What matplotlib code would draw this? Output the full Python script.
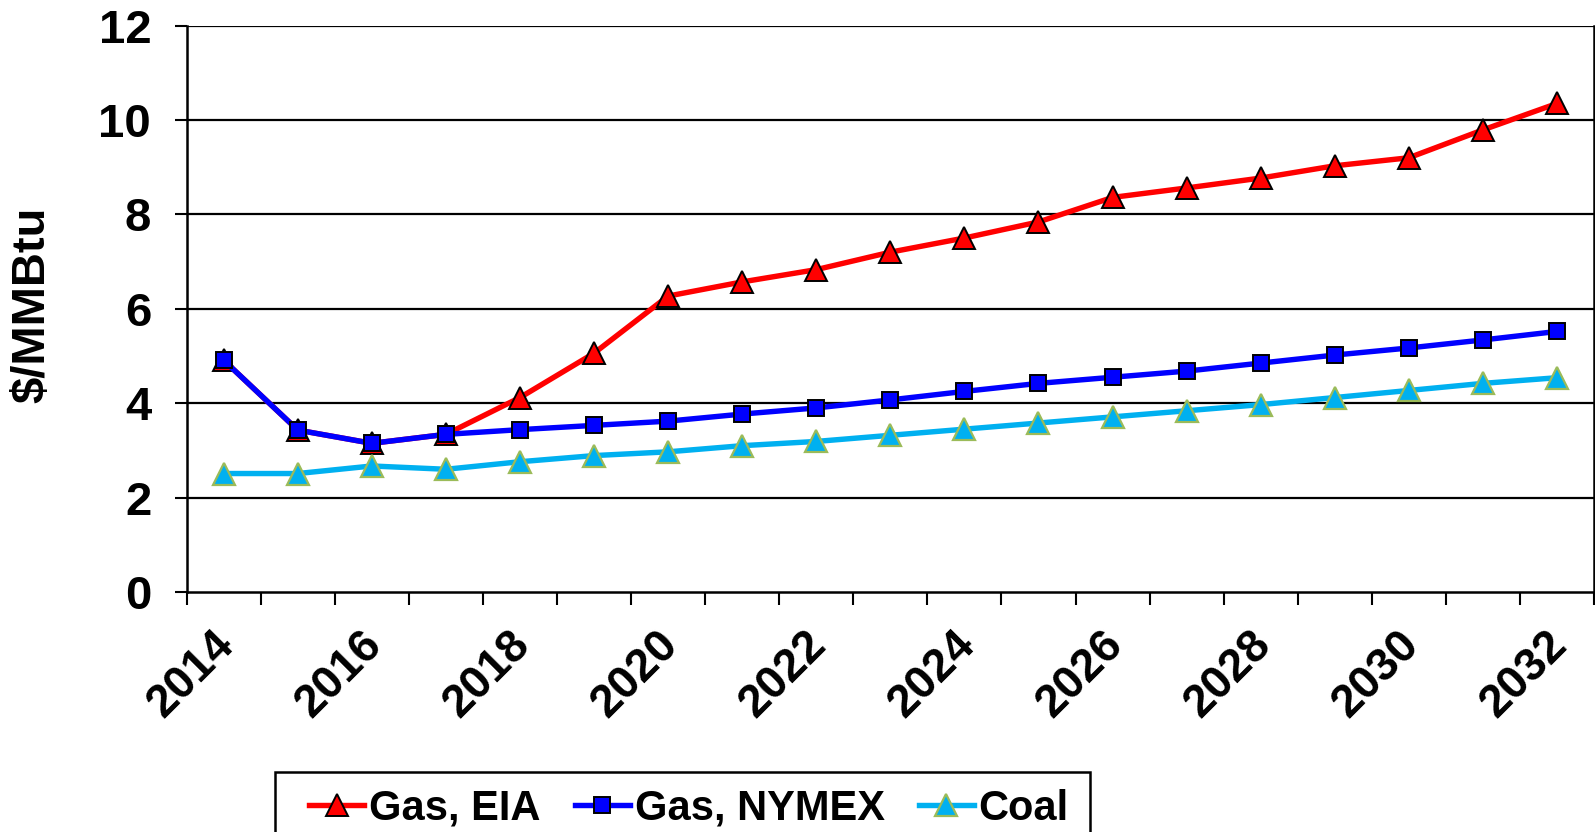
import matplotlib
matplotlib.use("Agg")
import matplotlib.pyplot as plt
from matplotlib.transforms import ScaledTranslation
from matplotlib.patches import Rectangle
import numpy as np

years = list(range(2014, 2033))
gas_eia = [4.91, 3.43, 3.15, 3.34, 4.12, 5.06, 6.27, 6.57, 6.83, 7.20,
           7.50, 7.84, 8.36, 8.56, 8.77, 9.03, 9.20, 9.79, 10.35]
gas_nymex = [4.91, 3.43, 3.15, 3.34, 3.44, 3.53, 3.62, 3.77, 3.90, 4.07,
             4.25, 4.42, 4.55, 4.68, 4.85, 5.02, 5.17, 5.34, 5.52]
coal = [2.51, 2.51, 2.67, 2.60, 2.76, 2.89, 2.97, 3.10, 3.19, 3.32,
        3.45, 3.58, 3.71, 3.84, 3.97, 4.12, 4.27, 4.42, 4.54]
series_names = ["Gas, EIA", "Gas, NYMEX", "Coal"]
y_ticks = [0, 2, 4, 6, 8, 10, 12]

plt.rcParams["font.family"] = ["Liberation Sans", "DejaVu Sans"]
plt.rcParams["font.weight"] = "bold"

W, H = 1595, 832
fig = plt.figure(figsize=(W / 100, H / 100), dpi=100)
left, right = 186.7 / W, 1594.0 / W
bottom, top = (H - 592.0) / H, (H - 25.6) / H
ax = fig.add_axes([left, bottom, right - left, top - bottom])

x = np.arange(len(years)) + 0.5

l1, = ax.plot(x, gas_eia, color="#FF0000", lw=3.9, marker="^", ms=16,
              mfc="#FF0000", mec="black", mew=1.4, zorder=3)
l2, = ax.plot(x, gas_nymex, color="#0000FF", lw=3.9, marker="s", ms=11,
              mfc="#0000FF", mec="black", mew=1.4, zorder=4)
l3, = ax.plot(x, coal, color="#00B0F0", lw=3.9, marker="^", ms=16,
              mfc="#00B0F0", mec="#9BBB59", mew=1.6, zorder=5)

ax.set_xlim(0, len(years))
ax.set_ylim(0, 12)

# horizontal gridlines
for yv in y_ticks[1:]:
    ax.axhline(yv, color="black", lw=1.6, zorder=1)

for s in ax.spines.values():
    s.set_linewidth(1.8)
    s.set_color("black")
ax.spines["top"].set_visible(False)

ax.set_yticks(y_ticks)
ax.set_yticklabels([str(v) for v in y_ticks], fontsize=34, fontweight="bold")
ax.tick_params(axis="y", direction="out", length=8.6, width=1.5, pad=17)

# category boundaries carry the tick marks; every other year is labelled
ax.set_xticks(np.arange(len(years) + 1))
ax.set_xticklabels([])
ax.tick_params(axis="x", which="major", direction="out", length=9.4, width=1.5)
lab_pos = [i + 0.5 for i in range(0, len(years), 2)]
ax.set_xticks(lab_pos, minor=True)
ax.set_xticklabels([str(years[i]) for i in range(0, len(years), 2)], minor=True,
                   fontsize=33, fontweight="bold", rotation=45,
                   ha="right", va="top", rotation_mode="anchor")
ax.tick_params(axis="x", which="minor", length=0, pad=22)
shift = ScaledTranslation(-12 / 100, 0, fig.dpi_scale_trans)
for t in ax.get_xticklabels(minor=True):
    t.set_transform(t.get_transform() + shift)

fig.text(32 / W, 1 - 305 / H, "$/MMBtu", rotation=90, ha="center", va="center",
         fontsize=34, fontweight="bold")

# legend box, running off the lower edge of the figure
fig.patches.append(Rectangle((275 / W, -0.05), (1090 - 275) / W,
                             (H - 772.0) / H + 0.05, transform=fig.transFigure,
                             facecolor="white", edgecolor="black", lw=1.8,
                             zorder=1))
leg = fig.legend([l1, l2, l3], series_names, ncol=3, loc="upper left",
                 bbox_to_anchor=(309 / W, 1 - 789 / H),
                 prop={"size": 30, "weight": "bold"}, frameon=False,
                 handlelength=1.32, handletextpad=0.12, columnspacing=0.82,
                 borderpad=0, borderaxespad=0)
leg.set_zorder(2)

fig.savefig("out.png", dpi=100)
